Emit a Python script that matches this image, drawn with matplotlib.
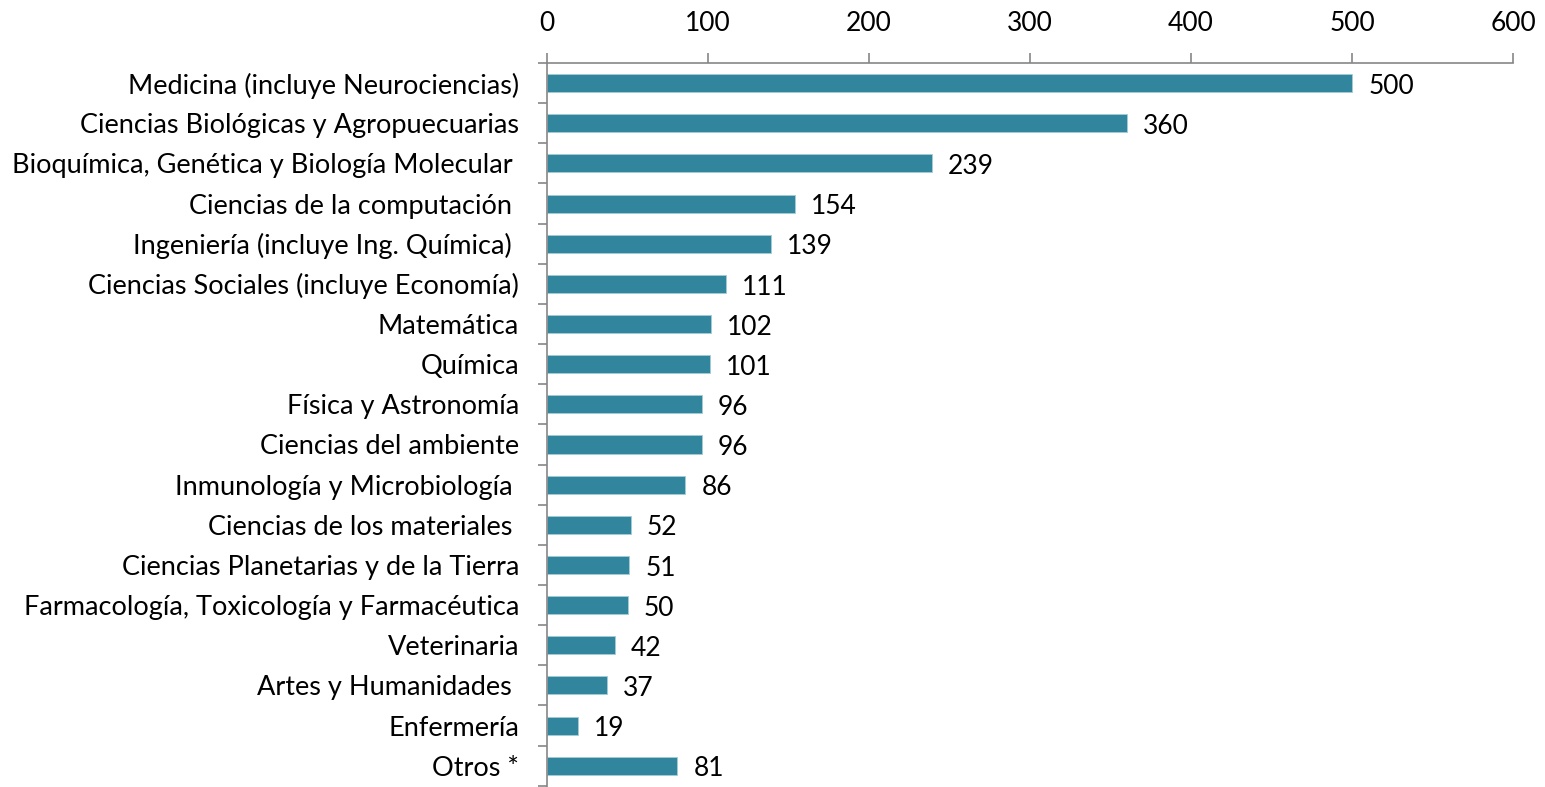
import matplotlib
matplotlib.use("Agg")
import matplotlib.pyplot as plt
import numpy as np

categories = [
    "Medicina (incluye Neurociencias)",
    "Ciencias Biológicas y Agropuecuarias",
    "Bioquímica, Genética y Biología Molecular ",
    "Ciencias de la computación ",
    "Ingeniería (incluye Ing. Química) ",
    "Ciencias Sociales (incluye Economía)",
    "Matemática",
    "Química",
    "Física y Astronomía",
    "Ciencias del ambiente",
    "Inmunología y Microbiología ",
    "Ciencias de los materiales ",
    "Ciencias Planetarias y de la Tierra",
    "Farmacología, Toxicología y Farmacéutica",
    "Veterinaria",
    "Artes y Humanidades ",
    "Enfermería",
    "Otros *",
]
values = [500, 360, 239, 154, 139, 111, 102, 101, 96, 96, 86, 52, 51, 50, 42, 37, 19, 81]
xticks = [0, 100, 200, 300, 400, 500, 600]

plt.rcParams['font.family'] = ['Lato', 'DejaVu Sans']
FS_CAT = 19.5
FS = 19

fig = plt.figure(figsize=(15.45, 7.87), dpi=100)
W, H = 1545, 787
ax = fig.add_axes([547 / W, 0, (1513 - 547) / W, (787 - 63) / H])

n = len(categories)
y = np.arange(n)
ax.barh(y, values, height=0.45, color="#31859C", edgecolor="#A5CCD6", linewidth=0.6)
ax.set_ylim(n - 0.5 + 0.03, -0.5)
ax.set_xlim(0, 600)

ax.xaxis.tick_top()
ax.set_xticks(xticks)
ax.set_xticklabels([str(t) for t in xticks], fontsize=FS)
ax.tick_params(axis="x", direction="out", length=7.2, width=1.2, color="#868686", pad=12)

ax.set_yticks(y)
ax.set_yticklabels(categories, fontsize=FS_CAT)
ax.tick_params(axis="y", which="major", length=0, pad=20)
ax.set_yticks(np.arange(n + 1) - 0.5, minor=True)
ax.tick_params(axis="y", which="minor", direction="out", length=6.5, width=1.2, color="#868686")

for s in ["right", "bottom"]:
    ax.spines[s].set_visible(False)
for s in ["top", "left"]:
    ax.spines[s].set_color("#868686")
    ax.spines[s].set_linewidth(1.2)

for yi, v in zip(y, values):
    ax.text(v + 10, yi + 0.08, str(v), va="center", ha="left", fontsize=FS)

fig.savefig("out.png", dpi=100)
